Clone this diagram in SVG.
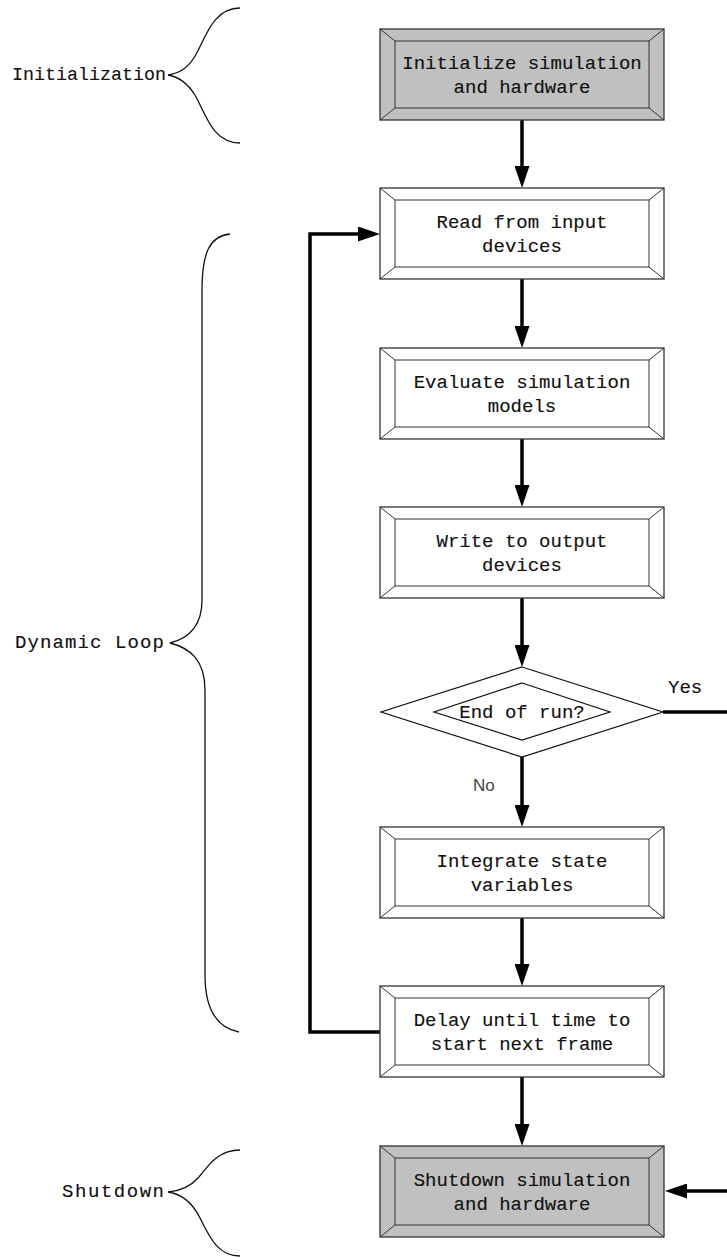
<svg xmlns="http://www.w3.org/2000/svg" width="727" height="1258" viewBox="0 0 727 1258">
<style>
.outer{stroke:#333;stroke-width:1.3}
.bev{fill:none;stroke:#333;stroke-width:1}
.w{fill:#fff}
.g{fill:#c0c0c0}
.t{font-family:"Liberation Mono","DejaVu Sans Mono",monospace;font-size:19px;fill:#111;stroke:#111;stroke-width:0.15;text-anchor:middle}
.lbl{font-family:"Liberation Mono","DejaVu Sans Mono",monospace;font-size:19px;fill:#111;stroke:#111;stroke-width:0.15;text-anchor:end}
.brace{fill:none;stroke:#111;stroke-width:1.3}
.conn{fill:none;stroke:#000;stroke-width:3.5}
</style>
<defs>
<marker id="ah" markerUnits="userSpaceOnUse" markerWidth="22" markerHeight="15" refX="7" refY="7.5" orient="auto">
<path d="M0,0 L22,7.5 L0,15 z" fill="#000"/>
</marker>
<g id="bevel">
<line x1="0" y1="0" x2="15" y2="12"/>
<line x1="284" y1="0" x2="269" y2="12"/>
<line x1="0" y1="91" x2="15" y2="79"/>
<line x1="284" y1="91" x2="269" y2="79"/>
</g>
</defs>

<g id="braces">
<path class="brace" d="M240 8 C212 8 205 40 195 56 C188 68 180 73 168 75 C180 77 188 84 195 95 C205 112 212 143 240 143"/>
<path class="brace" d="M230 234 C210 236 202 252 202 290 L202 600 C202 625 190 638 170 643 C190 648 205 660 205 690 L205 975 C205 1010 218 1028 239 1032"/>
<path class="brace" d="M240 1150 C215 1150 206 1170 198 1178 C190 1187 180 1191 168 1192 C182 1194 192 1202 200 1218 C210 1238 218 1256 240 1256"/>
</g>

<g id="labels">
<text class="lbl" x="166" y="80" textLength="154" lengthAdjust="spacingAndGlyphs">Initialization</text>
<text class="lbl" x="164" y="648" textLength="149">Dynamic Loop</text>
<text class="lbl" x="164" y="1197" textLength="102">Shutdown</text>
</g>

<g id="connectors">
<line class="conn" x1="522" y1="120" x2="522" y2="173" marker-end="url(#ah)"/>
<line class="conn" x1="522" y1="279" x2="522" y2="333" marker-end="url(#ah)"/>
<line class="conn" x1="522" y1="439" x2="522" y2="492" marker-end="url(#ah)"/>
<line class="conn" x1="522" y1="598" x2="522" y2="652" marker-end="url(#ah)"/>
<line class="conn" x1="522" y1="757" x2="522" y2="812" marker-end="url(#ah)"/>
<line class="conn" x1="522" y1="918" x2="522" y2="971" marker-end="url(#ah)"/>
<line class="conn" x1="522" y1="1077" x2="522" y2="1131" marker-end="url(#ah)"/>
<path class="conn" d="M380 1032 L310 1032 L310 234 L365 234" marker-end="url(#ah)"/>
<line class="conn" x1="663" y1="712" x2="727" y2="712"/>
<line class="conn" x1="727" y1="1191" x2="680" y2="1191" marker-end="url(#ah)"/>
<text x="668" y="693" font-family="Liberation Mono, DejaVu Sans Mono, monospace" font-size="19" fill="#111" stroke="#111" stroke-width="0.15">Yes</text>
<text x="473" y="791" font-family="Liberation Sans, Arial, sans-serif" font-size="17" fill="#444">No</text>
</g>

<g id="n1">
<rect class="outer g" x="380" y="29" width="284" height="91"/>
<rect class="bev" x="395" y="41" width="254" height="67"/>
<use href="#bevel" x="380" y="29" class="bev"/>
<text class="t" x="522" y="69">Initialize simulation</text>
<text class="t" x="522" y="93">and hardware</text>
</g>

<g id="n2">
<rect class="outer w" x="380" y="188" width="284" height="91"/>
<rect class="bev" x="395" y="200" width="254" height="67"/>
<use href="#bevel" x="380" y="188" class="bev"/>
<text class="t" x="522" y="228">Read from input</text>
<text class="t" x="522" y="252">devices</text>
</g>

<g id="n3">
<rect class="outer w" x="380" y="348" width="284" height="91"/>
<rect class="bev" x="395" y="360" width="254" height="67"/>
<use href="#bevel" x="380" y="348" class="bev"/>
<text class="t" x="522" y="388">Evaluate simulation</text>
<text class="t" x="522" y="412">models</text>
</g>

<g id="n4">
<rect class="outer w" x="380" y="507" width="284" height="91"/>
<rect class="bev" x="395" y="519" width="254" height="67"/>
<use href="#bevel" x="380" y="507" class="bev"/>
<text class="t" x="522" y="547">Write to output</text>
<text class="t" x="522" y="571">devices</text>
</g>

<g id="decision">
<polygon points="522,667 663,712 522,757 381,712" fill="#fff" stroke="#111" stroke-width="1.2"/>
<polygon points="522,683 610,712 522,740 434,712" fill="#fff" stroke="#111" stroke-width="1.2"/>
<text class="t" x="522" y="718">End of run?</text>
</g>

<g id="n5">
<rect class="outer w" x="380" y="827" width="284" height="91"/>
<rect class="bev" x="395" y="839" width="254" height="67"/>
<use href="#bevel" x="380" y="827" class="bev"/>
<text class="t" x="522" y="867">Integrate state</text>
<text class="t" x="522" y="891">variables</text>
</g>

<g id="n6">
<rect class="outer w" x="380" y="986" width="284" height="91"/>
<rect class="bev" x="395" y="998" width="254" height="67"/>
<use href="#bevel" x="380" y="986" class="bev"/>
<text class="t" x="522" y="1026">Delay until time to</text>
<text class="t" x="522" y="1050">start next frame</text>
</g>

<g id="n7">
<rect class="outer g" x="380" y="1146" width="284" height="91"/>
<rect class="bev" x="395" y="1158" width="254" height="67"/>
<use href="#bevel" x="380" y="1146" class="bev"/>
<text class="t" x="522" y="1186">Shutdown simulation</text>
<text class="t" x="522" y="1210">and hardware</text>
</g>
</svg>
